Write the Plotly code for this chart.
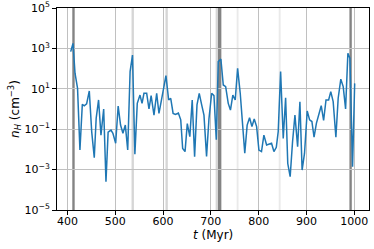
import plotly.graph_objects as go

# ---- data ----
t_myr = [406.7, 411.5, 415.7, 421, 426, 431, 435, 440, 445.6, 450.6,
         456, 460, 465, 470, 475.7, 480.5, 485, 491, 495, 500.8,
         506, 511, 516, 521, 526, 531, 536, 541, 546, 551.7,
         556, 560, 565.7, 570.5, 575, 581, 586.6, 591.4, 596, 602,
         606, 611.7, 616, 621, 626, 632, 637, 641, 646, 650.7,
         656, 661, 666, 671, 675.7, 680.8, 685.6, 691, 696, 701.7,
         706.5, 711.4, 715.5, 721, 726, 731, 736.4, 741, 746, 751,
         756, 761.5, 766.5, 771, 776, 781, 786, 790.8, 795.8, 800.6,
         806, 811, 816.7, 821.4, 827, 832, 837, 841, 846, 851.5,
         856.5, 861, 866, 871, 876, 881.6, 886.4, 891, 896, 901.7,
         906.7, 911.5, 916, 921, 926, 931, 936, 941, 946.5, 951,
         956, 961.7, 966.5, 972, 977, 982, 986.8, 991, 996.6, 1001]

n_h = [690, 1780, 59, 10.5, 0.0093, 1.7, 1.45, 1.8, 7.8, 0.076,
       0.0039, 0.35, 2.8, 0.051, 1.0, 0.00025, 0.071, 0.091, 0.063, 0.02,
       1.4, 0.16, 0.063, 0.16, 0.0093, 71, 470, 0.0058, 1.9, 4.9,
       1.9, 6.0, 6.0, 1.0, 4.6, 0.5, 6.0, 0.6, 2.3, 15.5,
       45, 2.8, 3.4, 0.6, 0.54, 0.63, 0.29, 0.011, 0.0078, 0.19,
       0.043, 2.8, 0.0044, 1.6, 6.0, 1.6, 0.5, 0.0045, 0.32, 6.0,
       4.6, 0.03, 220, 295, 15.5, 12.9, 1.9, 0.89, 4.9, 2.8,
       102, 6.0, 0.16, 0.0065, 0.16, 0.37, 0.135, 0.32, 0.135, 0.0093,
       0.0078, 0.051, 0.0166, 0.0178, 0.02, 0.0078, 0.0126, 0.076, 71, 0.035,
       3.6, 0.002, 0.00045, 0.024, 0.5, 0.0135, 2.3, 0.00095, 0.0063, 0.8,
       0.29, 0.24, 0.04, 0.2, 0.5, 1.45, 0.27, 2.8, 2.8, 7.2,
       2.3, 0.04, 3.4, 30, 12.9, 1.0, 575, 325, 0.0014, 18.6]

x_tick_vals = [400, 500, 600, 700, 800, 900, 1000]
y_tick_exps = [-5, -3, -1, 1, 3, 5]

# highlighted time intervals (Myr) and their kind
band_start = [410, 534, 605, 710, 715, 754, 842, 990]
band_end = [415, 539, 610, 715, 722, 758, 846, 995]
band_kind = ["strong", "weak", "weak", "weak", "strong", "faint", "faint", "strong"]

x_title = "<i>t</i> (Myr)"
y_title = "<i>n<sub>H</sub></i> (cm<sup>\u22123</sup>)"

# ---- styling ----
kind_color = {
    "strong": "rgba(110,110,110,0.85)",
    "weak": "rgba(200,200,200,0.75)",
    "faint": "rgba(225,225,225,0.7)",
}

fig = go.Figure()
fig.add_trace(go.Scatter(
    x=t_myr, y=n_h, mode="lines",
    line=dict(color="#1f77b4", width=1.5),
    showlegend=False,
))

for s, e, k in zip(band_start, band_end, band_kind):
    fig.add_vrect(x0=s, x1=e, fillcolor=kind_color[k], line_width=0,
                  layer="below")

tick_font = dict(family="DejaVu Sans", size=11, color="black")
title_font = dict(family="DejaVu Sans", size=12, color="black")
fig.update_layout(
    width=374, height=249,
    margin=dict(l=57, r=5, t=8, b=39),
    paper_bgcolor="white", plot_bgcolor="white",
    font=tick_font,
)
fig.update_xaxes(
    range=[378, 1031],
    tickvals=x_tick_vals,
    ticks="outside", ticklen=4, tickwidth=1, tickcolor="black",
    showline=True, linecolor="black", linewidth=1, mirror=True,
    showgrid=True, gridcolor="#c0c0c0", gridwidth=1,
    zeroline=False,
    tickfont=tick_font, automargin=False, ticklabeloverflow="allow",
    ticklabelstandoff=-3,
)
fig.update_yaxes(
    type="log", range=[-5, 5],
    tickvals=[10 ** e for e in y_tick_exps],
    ticktext=["10<sup>%s</sup>" % (str(e).replace("-", "\u2212")) for e in y_tick_exps],
    ticks="outside", ticklen=4, tickwidth=1, tickcolor="black",
    showline=True, linecolor="black", linewidth=1, mirror=True,
    showgrid=True, gridcolor="#c0c0c0", gridwidth=1,
    zeroline=False,
    tickfont=tick_font, automargin=False, ticklabeloverflow="allow",
)
fig.add_annotation(text=x_title, xref="paper", yref="paper", x=0.5, y=-0.125,
                   xanchor="center", yanchor="middle", showarrow=False, font=title_font)
fig.add_annotation(text=y_title, xref="paper", yref="paper", x=-0.135, y=0.5,
                   xanchor="center", yanchor="middle", textangle=-90,
                   showarrow=False, font=title_font)

fig.write_html("out.html", config={"displayModeBar": False},
               post_script="document.body.style.margin='0';")
